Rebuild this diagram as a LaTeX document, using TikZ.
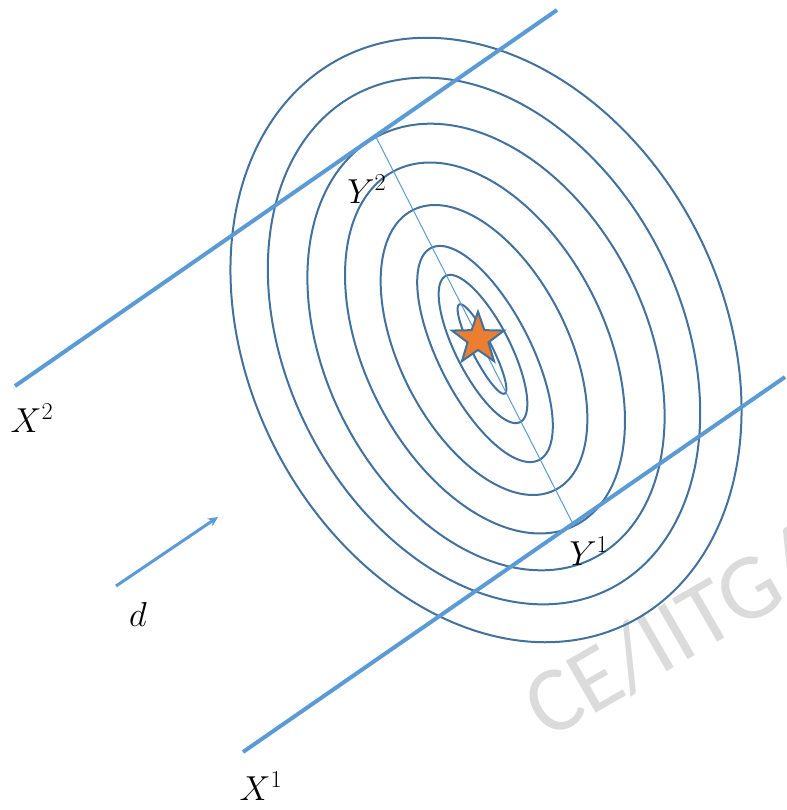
\documentclass[tikz,border=0pt]{standalone}
\usepackage{fix-cm}
\usepackage{fontspec}
\newfontfamily\wmfont{Carlito}
\usetikzlibrary{arrows.meta,shapes.geometric}
\definecolor{lineblue}{HTML}{5B9BD5}
\definecolor{curveblue}{HTML}{41719C}
\definecolor{staror}{HTML}{ED7D31}
\begin{document}
\begin{tikzpicture}[x=0.75pt,y=-0.75pt,
  contour/.style={draw=curveblue, line width=1.5pt},
  dirline/.style={draw=lineblue, line width=3pt},
  axisline/.style={draw=lineblue, line width=0.75pt},
  lbl/.style={font=\fontsize{26}{30}\selectfont, inner sep=0pt}]
\useasboundingbox (0,0) rectangle (787,810);
% watermark
\node[rotate=30, text=black!14, font=\wmfont\fontsize{70}{70}\selectfont, anchor=base west, inner sep=0pt] (wm) at (547,741) {CE/IITG/};
% contours
\foreach \cx/\cy/\a/\b in {486/340/317/237, 484/341/278/197, 486/347/237/160, 485/348/199/120, 484/350/157/84, 485/354/119/46, 483/349/82/27, 482/349/50/10}{
  \draw[contour] plot[smooth cycle, domain=0:357, samples=120, variable=\t]
    ({\cx + \a*cos(\t)*cos(63) - \b*sin(\t)*sin(63)}, {\cy + \a*cos(\t)*sin(63) + \b*sin(\t)*cos(63)});
}
% coordinates
\coordinate (x2a) at (15,386);
\coordinate (x2b) at (557,10);
\coordinate (x1a) at (243,752);
\coordinate (x1b) at (785,377);
\coordinate (y2p) at (376,137);
\coordinate (y1p) at (572,522);
\coordinate (d0) at (116,586);
\coordinate (d1) at (218,517);
% axis line
\draw[axisline] (y2p) -- (y1p);
% direction lines
\draw[dirline] (x2a) -- (x2b);
\draw[dirline] (x1a) -- (x1b);
% star
\node[star, star points=5, star point ratio=2.5, minimum size=41pt, inner sep=0pt, fill=staror, draw=curveblue, line width=1.5pt] (opt) at (478,339) {};
% arrow d
\draw[lineblue, line width=2.25pt, -{Stealth[length=7.5pt, width=7pt]}] (d0) -- (d1);
% labels
\node[lbl] (lx2) at (32,418) {$X^2$};
\node[lbl] (lx1) at (261,786) {$X^1$};
\node[lbl] (ld) at (138,614) {$d$};
\node[lbl] (ly2) at (367,189) {$Y^2$};
\node[lbl] (ly1) at (589,551) {$Y^1$};
\end{tikzpicture}
\end{document}
